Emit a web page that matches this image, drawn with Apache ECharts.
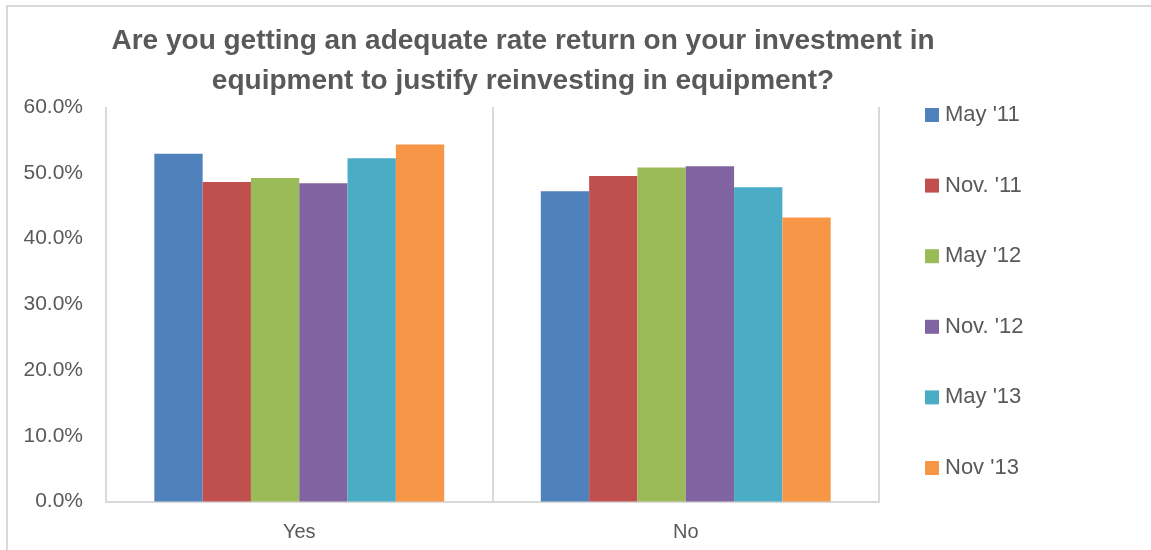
<!DOCTYPE html>
<html>
<head>
<meta charset="utf-8">
<style>
  html, body { margin: 0; padding: 0; background: #ffffff; }
  #chart { width: 1151px; height: 550px; }
</style>
<script src="https://cdn.jsdelivr.net/npm/echarts@6/dist/echarts.min.js"></script>
</head>
<body>
<div id="chart"></div>
<script>
// Survey answers and the survey waves
const categories = ['Yes', 'No'];
const waves = ["May '11", "Nov. '11", "May '12", "Nov. '12", "May '13", "Nov '13"];

// Share of respondents (%) per wave: [Yes, No]
const may11 = [52.9, 47.2];
const nov11 = [48.6, 49.5];
const may12 = [49.2, 50.8];
const nov12 = [48.4, 51.0];
const may13 = [52.2, 47.8];
const nov13 = [54.3, 43.2];

const yTicks = [0, 10, 20, 30, 40, 50, 60];

const seriesValues = [may11, nov11, may12, nov12, may13, nov13];
const palette = ['#4F81BD', '#C0504D', '#9BBB59', '#8064A2', '#4BACC6', '#F79646'];

const font = 'Liberation Sans, Arial, sans-serif';
const textColor = '#595959';
const lineColor = '#D9D9D9';

const chart = echarts.init(document.getElementById('chart'), null, { renderer: 'canvas' });

chart.setOption({
  animation: false,
  backgroundColor: '#ffffff',
  color: palette,
  title: {
    text: 'Are you getting an adequate rate return on your investment in\nequipment to justify reinvesting in equipment?',
    left: 523,
    top: 21,
    padding: 0,
    textAlign: 'center',
    textStyle: {
      fontFamily: font,
      fontWeight: 'bold',
      fontSize: 28,
      lineHeight: 40,
      color: textColor
    }
  },
  legend: {
    orient: 'vertical',
    left: 925,
    top: 104,
    padding: 0,
    itemWidth: 14,
    itemHeight: 14,
    itemGap: 48.6,
    icon: 'rect',
    data: waves,
    textStyle: {
      fontFamily: font,
      fontSize: 22,
      lineHeight: 20,
      color: textColor,
      padding: [0, 0, 0, 1]
    }
  },
  grid: {
    left: 106,
    right: 272,
    top: 107,
    bottom: 48.5,
    containLabel: false
  },
  xAxis: {
    type: 'category',
    data: categories,
    axisLine: { show: true, lineStyle: { color: lineColor, width: 2 } },
    axisTick: { show: false },
    splitLine: { show: true, lineStyle: { color: lineColor, width: 2 } },
    axisLabel: {
      margin: 21,
      fontFamily: font,
      fontSize: 20,
      color: textColor
    }
  },
  yAxis: {
    type: 'value',
    min: yTicks[0],
    max: yTicks[yTicks.length - 1],
    interval: 10,
    axisLine: { show: false },
    axisTick: { show: false },
    splitLine: { show: false },
    axisLabel: {
      margin: 23,
      fontFamily: font,
      fontSize: 21,
      color: textColor,
      formatter: v => v.toFixed(1) + '%'
    }
  },
  graphic: [
    {
      type: 'polyline',
      silent: true,
      shape: { points: [[7, 550], [7, 6], [1151, 6]] },
      style: { stroke: lineColor, lineWidth: 2, fill: null }
    }
  ],
  series: waves.map((name, i) => ({
    name: name,
    type: 'bar',
    data: seriesValues[i],
    barGap: '0%',
    barCategoryGap: '25%',
    itemStyle: { color: palette[i] }
  }))
});
</script>
</body>
</html>
